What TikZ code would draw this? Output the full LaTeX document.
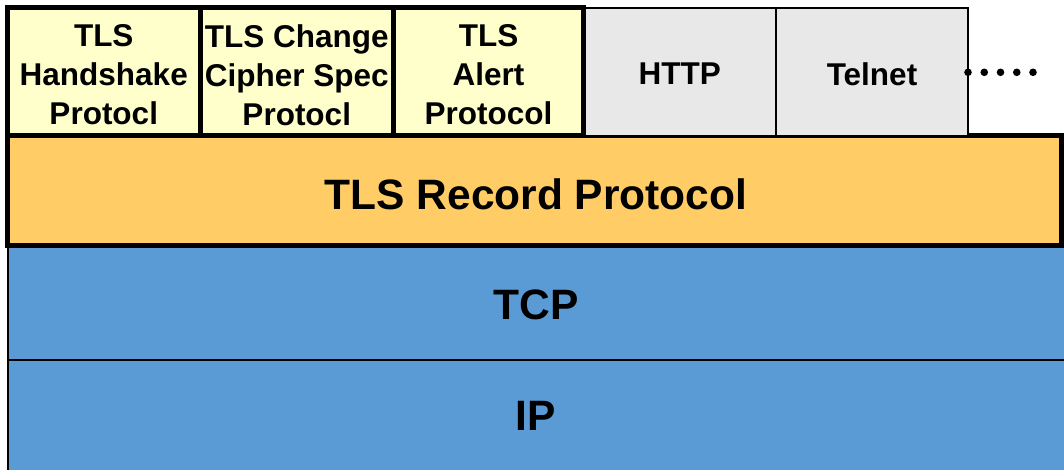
\documentclass[tikz,border=0pt]{standalone}
\usepackage{fontspec}
\setmainfont{Liberation Sans}
\definecolor{yel}{HTML}{FFFFCC}
\definecolor{gry}{HTML}{E8E8E8}
\definecolor{org}{HTML}{FFCC66}
\definecolor{blu}{HTML}{5B9BD5}
\begin{document}
\begin{tikzpicture}[x=1pt,y=-1pt,
  layer/.style={rectangle, inner sep=0pt, outer sep=0pt, align=center, font=\bfseries\fontsize{31.5}{39}\selectfont},
  tlsbox/.style={layer, fill=yel, draw=black, line width=5pt},
  appbox/.style={layer, fill=gry, draw=black, line width=2pt},
  recbox/.style={layer, fill=org, draw=black, line width=5pt},
  netbox/.style={layer, fill=blu, draw=black, line width=2pt},
  bigtext/.style={layer, font=\bfseries\fontsize{42.5}{50}\selectfont}]
\useasboundingbox (0,0) rectangle (1064,469);
\clip (0,0) rectangle (1064,469);
% network layers
\node[netbox, minimum width=1070pt, minimum height=114.5pt, anchor=north west] (tcp) at (8,245.5) {};
\node[netbox, minimum width=1070pt, minimum height=120pt, anchor=north west] (ip) at (8,360) {};
\node[bigtext] (tcpt) at (536,305) {TCP};
\node[bigtext] (ipt) at (536,416) {IP};
% record layer
\node[recbox, minimum width=1054pt, minimum height=110pt, anchor=north west] (rec) at (7.5,135.5) {};
\node[bigtext] (rect) at (536,194) {TLS Record Protocol};
% applications
\node[appbox, minimum width=192.5pt, minimum height=127.5pt, anchor=north west] (http) at (583.5,8) {};
\node[appbox, minimum width=192pt, minimum height=127.5pt, anchor=north west] (telnet) at (776,8) {};
\node[layer] at ([yshift=-2pt]http.center) {HTTP};
\node[layer] at ([yshift=-2pt]telnet.center) {Telnet};
% TLS sub-protocols
\node[tlsbox, minimum width=192.5pt, minimum height=128pt, anchor=north west] (hs) at (7.5,7.5) {};
\node[tlsbox, minimum width=193.5pt, minimum height=128pt, anchor=north west] (ccs) at (200,7.5) {};
\node[tlsbox, minimum width=190pt, minimum height=128pt, anchor=north west] (alert) at (393.5,7.5) {};
\node[layer] at ([yshift=-3.5pt]hs.center) {TLS\\Handshake\\Protocl};
\node[layer] at ([yshift=-3.5pt]ccs.center) {TLS Change\\Cipher Spec\\Protocl};
\node[layer] at ([yshift=-3.5pt]alert.center) {TLS\\Alert\\Protocol};
% dots
\foreach \i in {0,...,4} \fill (968+16.25*\i,72.3) circle (3.8pt);
\end{tikzpicture}
\end{document}
